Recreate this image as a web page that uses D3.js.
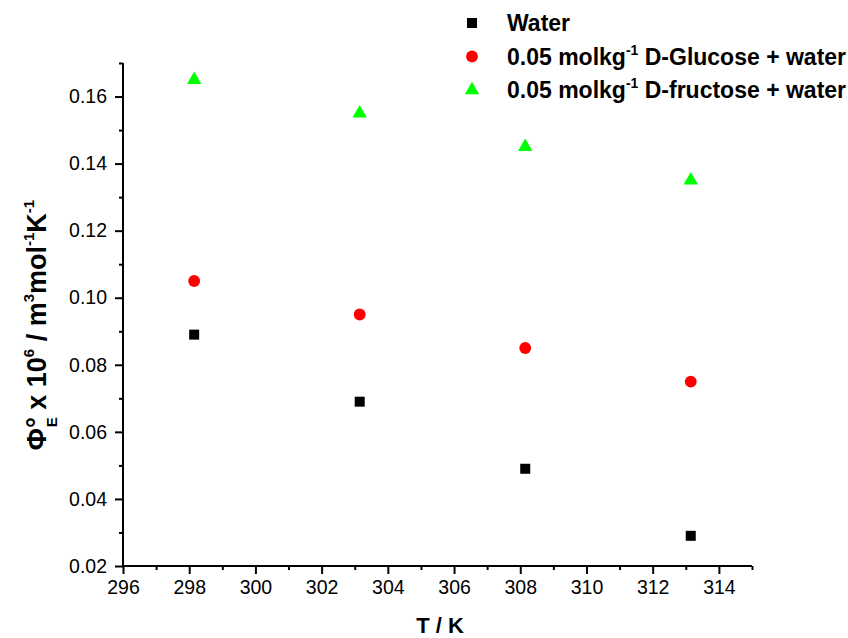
<!DOCTYPE html>
<html>
<head>
<meta charset="utf-8">
<script src="https://cdn.jsdelivr.net/npm/d3@7"></script>
<style>
  html, body { margin: 0; padding: 0; background: #fff; }
  svg { display: block; font-family: "Liberation Sans", Arial, sans-serif; }
</style>
</head>
<body>
<svg id="chart" width="848" height="638"></svg>
<script>
// Temperatures (K)
const temperatures = [298.15, 303.15, 308.15, 313.15];
// Series values (Φ°E x 10^6 / m^3 mol^-1 K^-1)
const water = [0.089, 0.069, 0.049, 0.029];
const glucose = [0.105, 0.095, 0.085, 0.075];
const fructose = [0.165, 0.155, 0.145, 0.135];
// Axis ticks
const xMajorTicks = [296, 298, 300, 302, 304, 306, 308, 310, 312, 314];
const xMinorTicks = [297, 299, 301, 303, 305, 307, 309, 311, 313, 315];
const yMajorTicks = [0.02, 0.04, 0.06, 0.08, 0.10, 0.12, 0.14, 0.16];
const yMinorTicks = [0.03, 0.05, 0.07, 0.09, 0.11, 0.13, 0.15, 0.17];

const series = [
  { name: "water", values: water, shape: "square", color: "#000000" },
  { name: "glucose", values: glucose, shape: "circle", color: "#ff0000" },
  { name: "fructose", values: fructose, shape: "triangle", color: "#00ff00" }
];

const FONT = '"Liberation Sans", Arial, sans-serif';
const svg = d3.select("#chart");
const plotLeft = 123, plotRight = 752, plotTop = 63, plotBottom = 566;

const x = d3.scaleLinear().domain([296, 315]).range([plotLeft, plotRight]);
const y = d3.scaleLinear().domain([0.02, 0.17]).range([plotBottom, plotTop]);

// Axes: major ticks with labels, minor ticks without
const xAxis = svg.append("g").attr("transform", `translate(0,${plotBottom})`);
xAxis.call(d3.axisBottom(x).tickValues(xMajorTicks).tickSize(8).tickPadding(6).tickFormat(d3.format("d")));
const xMinor = svg.append("g").attr("transform", `translate(0,${plotBottom})`);
xMinor.call(d3.axisBottom(x).tickValues(xMinorTicks).tickSize(4).tickFormat(""));

const yAxis = svg.append("g").attr("transform", `translate(${plotLeft},0)`);
yAxis.call(d3.axisLeft(y).tickValues(yMajorTicks).tickSize(8).tickPadding(8).tickFormat(d3.format(".2f")));
const yMinor = svg.append("g").attr("transform", `translate(${plotLeft},0)`);
yMinor.call(d3.axisLeft(y).tickValues(yMinorTicks).tickSize(4).tickFormat(""));

svg.selectAll(".domain").attr("stroke", "#000").attr("stroke-width", 2);
svg.selectAll(".tick line").attr("stroke", "#000").attr("stroke-width", 2);
svg.selectAll(".tick text").attr("fill", "#000").attr("font-size", 19.5)
  .attr("font-family", FONT);
// plain L-shaped axes without end caps
xAxis.select(".domain").attr("d", `M${plotLeft},0H${plotRight}`);
xMinor.select(".domain").remove();
yAxis.select(".domain").attr("d", `M0,${plotBottom}V${plotTop}`);
yMinor.select(".domain").remove();

// Marker shapes
const symbolFor = {
  square: d3.symbol().type(d3.symbolSquare).size(100),
  circle: d3.symbol().type(d3.symbolCircle).size(110),
  triangle: d3.symbol().type(d3.symbolTriangle).size(90)
};

series.forEach(s => {
  svg.append("g").selectAll("path")
    .data(s.values.map((v, i) => [temperatures[i], v]))
    .join("path")
    .attr("d", symbolFor[s.shape]())
    .attr("transform", d => `translate(${x(d[0])},${y(d[1])})`)
    .attr("fill", s.color);
});

// Legend
const legend = svg.append("g").attr("font-weight", "bold").attr("font-size", 23)
  .attr("font-family", FONT);
const legendRows = [
  { shape: "square", color: "#000000", parts: [["Water", false]] },
  { shape: "circle", color: "#ff0000", parts: [["0.05 molkg", false], ["-1", true], [" D-Glucose + water", false]] },
  { shape: "triangle", color: "#00ff00", parts: [["0.05 molkg", false], ["-1", true], [" D-fructose + water", false]] }
];
legendRows.forEach((row, i) => {
  const cy = 23 + i * 33.5;
  legend.append("path")
    .attr("d", symbolFor[row.shape]())
    .attr("transform", `translate(472,${cy})`)
    .attr("fill", row.color);
  const t = legend.append("text").attr("x", 507).attr("y", cy + 8);
  row.parts.forEach(([txt, sup], j) => {
    const ts = t.append("tspan").text(txt);
    if (sup) ts.attr("font-size", 14).attr("dy", -10);
    else if (j > 0) ts.attr("dy", 10);
  });
});

// X axis title
svg.append("text")
  .attr("x", 440).attr("y", 633)
  .attr("text-anchor", "middle")
  .attr("font-weight", "bold").attr("font-size", 22)
  .attr("font-family", FONT)
  .text("T / K");

// Y axis title
const yt = svg.append("text")
  .attr("transform", `translate(46,${325}) rotate(-90)`)
  .attr("text-anchor", "middle")
  .attr("font-weight", "bold").attr("font-size", 27)
  .attr("font-family", FONT);
yt.append("tspan").text("Φ°");
yt.append("tspan").text("E").attr("font-size", 15).attr("dx", -10).attr("dy", 11);
yt.append("tspan").text(" x 10").attr("dy", -11);
yt.append("tspan").text("6").attr("font-size", 15).attr("dy", -12);
yt.append("tspan").text(" / m").attr("dy", 12);
yt.append("tspan").text("3").attr("font-size", 15).attr("dy", -12);
yt.append("tspan").text("mol").attr("dy", 12);
yt.append("tspan").text("-1").attr("font-size", 15).attr("dy", -12);
yt.append("tspan").text("K").attr("dy", 12);
yt.append("tspan").text("-1").attr("font-size", 15).attr("dy", -12);
</script>
</body>
</html>
